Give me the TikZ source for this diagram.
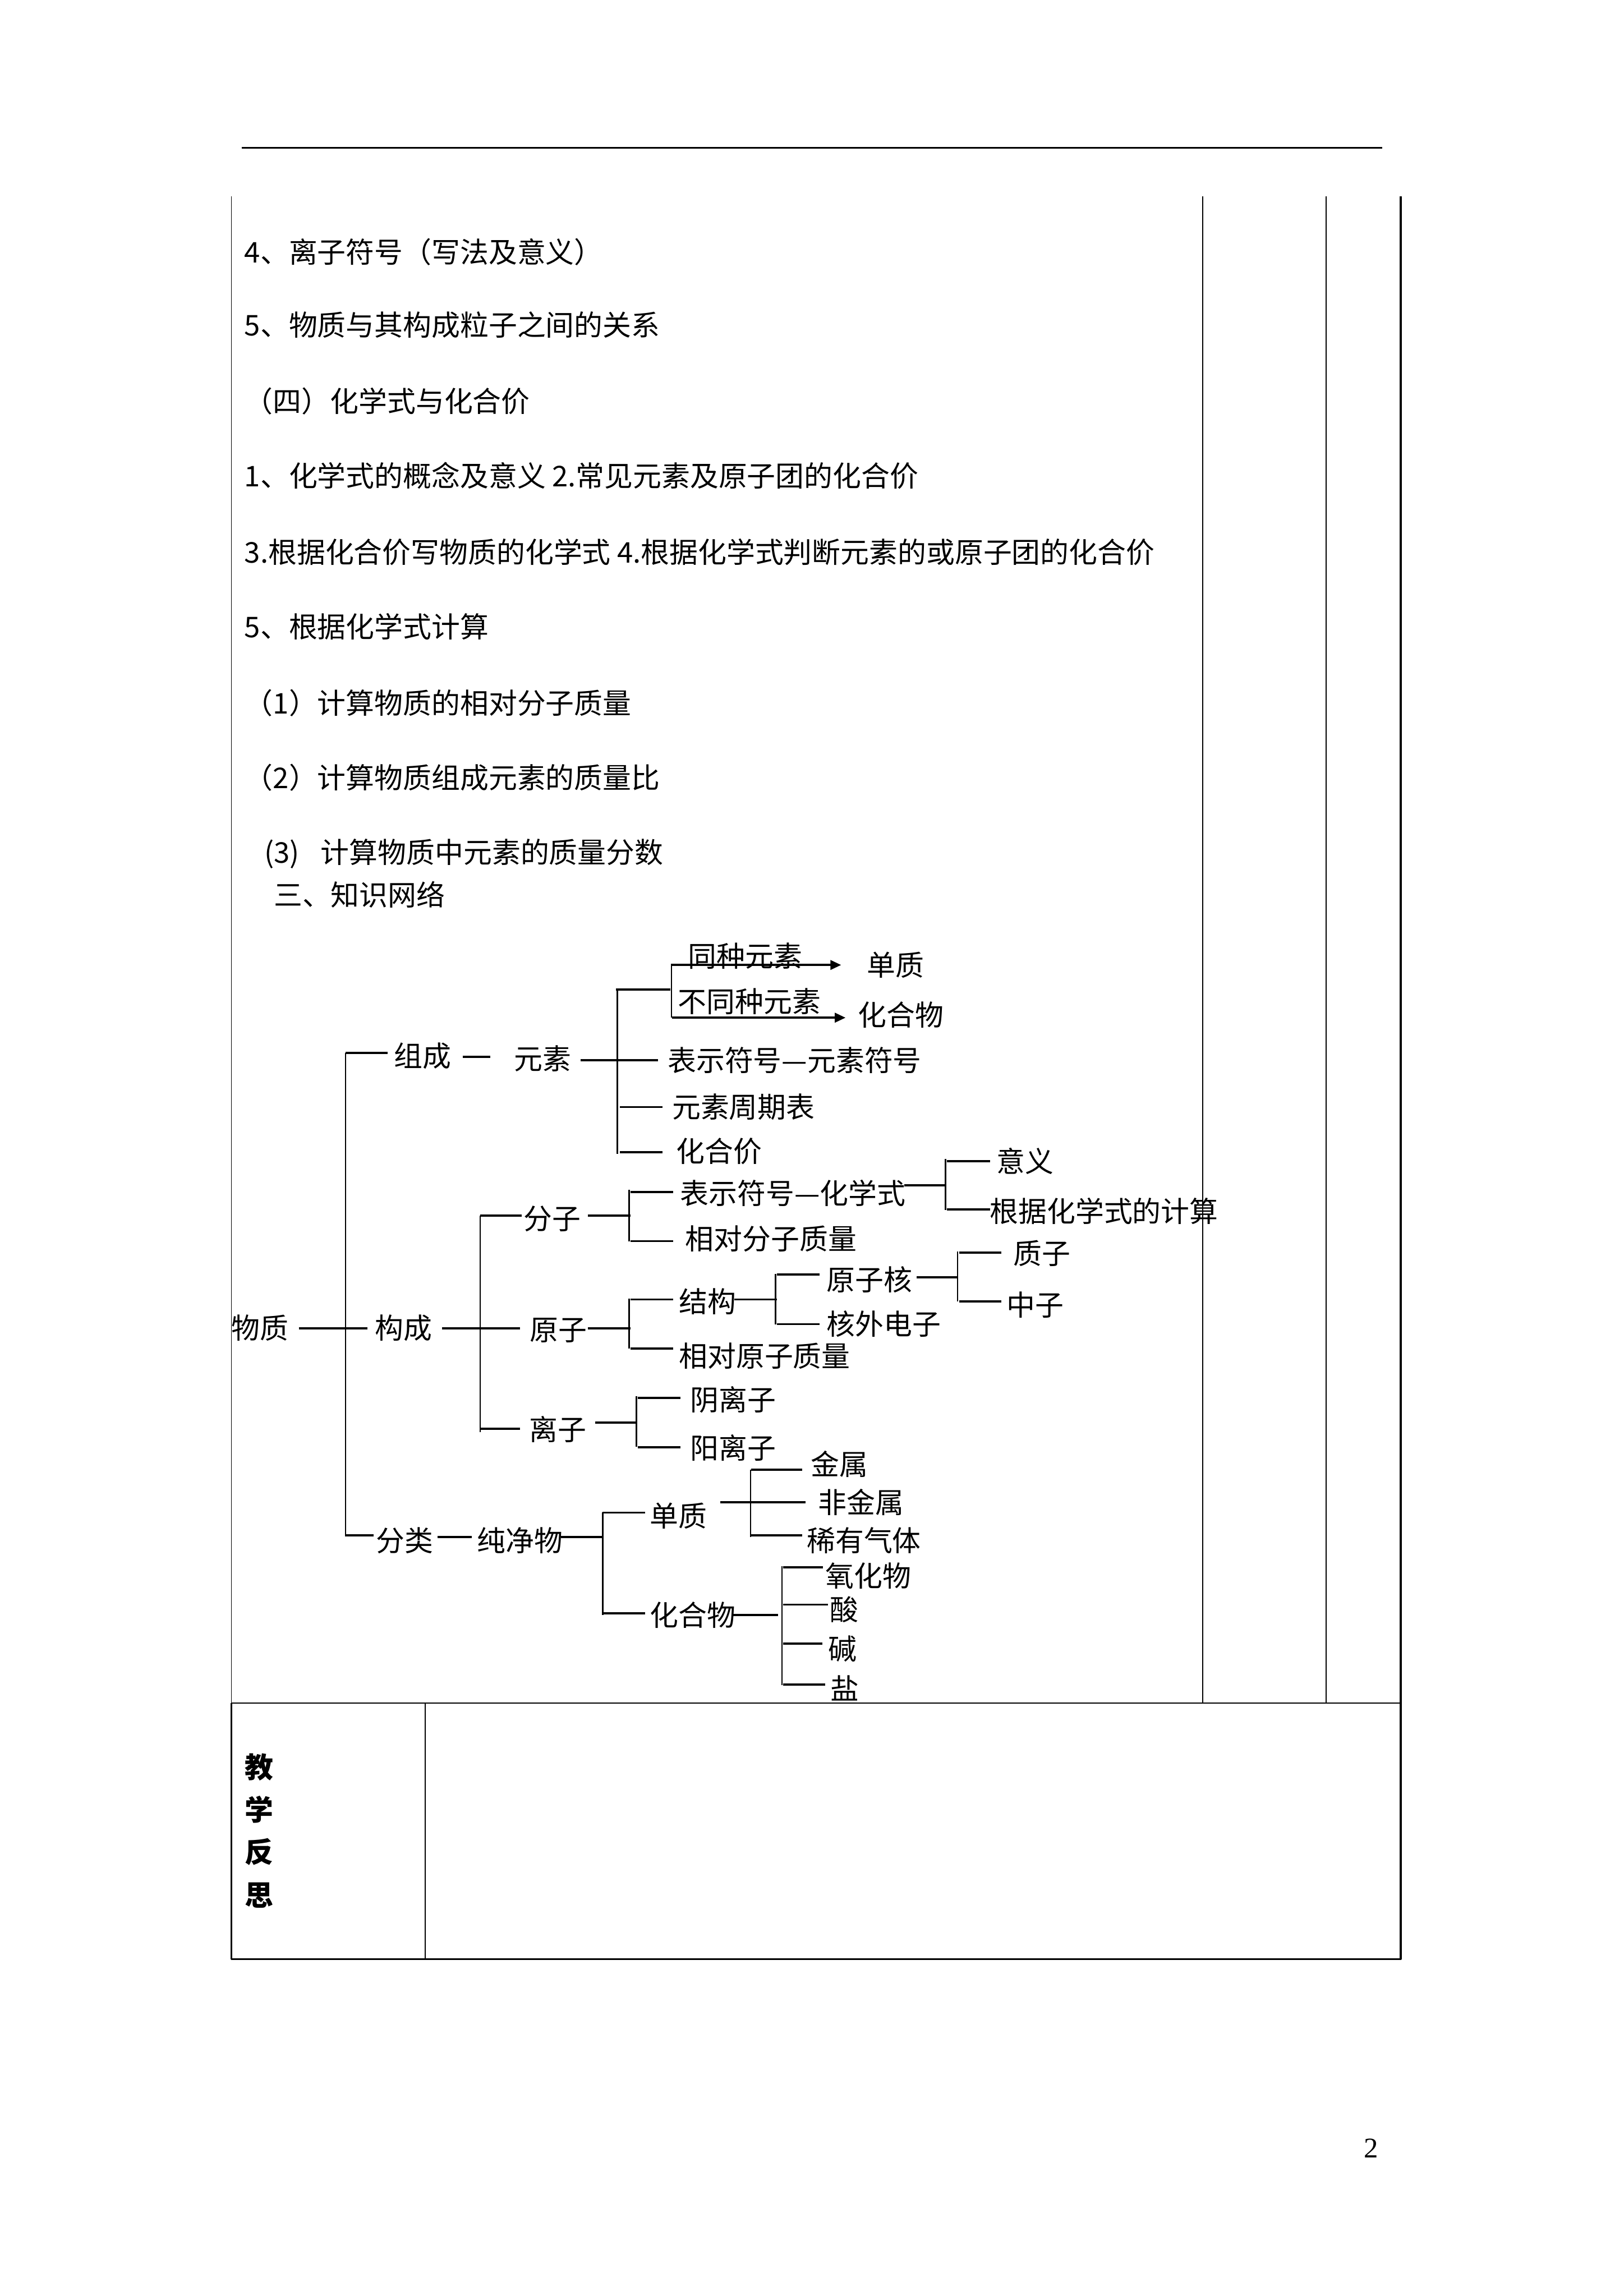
\documentclass[tikz,border=0pt]{standalone}
\usepackage{fontspec}
\newfontfamily\cjk{Noto Sans CJK SC}
\newfontfamily\pagenumfont{Liberation Serif}
\usetikzlibrary{arrows.meta}
\begin{document}
\begin{tikzpicture}[x=0.018936cm,y=-0.018941cm,
  every node/.style={inner sep=0pt,outer sep=0pt},
  txt/.style={anchor=west,font=\cjk\fontsize{10.5}{12}\selectfont,text height=9.24pt,text depth=1.26pt},
  hl/.style={line width=0.8pt},
  vl/.style={line width=0.5pt},
  arr/.style={line width=0.9pt,-{Triangle[length=1.4mm,width=1.2mm]}},
  tbthin/.style={line width=0.38pt},
  tbthick/.style={line width=0.65pt}]
\useasboundingbox (0,0) rectangle (1109,1568);

% page frame lines
\draw[line width=0.6pt] (165,101) -- (944,101);
\draw[tbthin] (158,134) -- (158,1163);
\draw[tbthin] (821.5,134) -- (821.5,1163);
\draw[tbthin] (905.5,134) -- (905.5,1163);
\draw[tbthick] (956.6,134) -- (956.6,1338);
\draw[line width=0.55pt] (158,1163) -- (956.6,1163);
\draw[tbthick] (158,1163) -- (158,1338);
\draw[tbthin] (290.5,1163) -- (290.5,1338);
\draw[line width=0.75pt] (157.7,1338) -- (956.9,1338);

% left column text
\node[txt] (l1) at (167,172) {4、离子符号（写法及意义）};
\node[txt] (l2) at (167,222) {5、物质与其构成粒子之间的关系};
\node[txt] (l3) at (167,274) {（四）化学式与化合价};
\node[txt] (l4) at (167,325) {1、化学式的概念及意义 2.常见元素及原子团的化合价};
\node[txt] (l5) at (167,377) {3.根据化合价写物质的化学式 4.根据化学式判断元素的或原子团的化合价};
\node[txt] (l6) at (167,428) {5、根据化学式计算};
\node[txt] (l7) at (167,480) {（1）计算物质的相对分子质量};
\node[txt] (l8) at (167,531) {（2）计算物质组成元素的质量比};
\node[txt] (l9) at (180.5,582) {(3)\hspace{0.75em}计算物质中元素的质量分数};
\node[txt] (l10) at (187,611) {三、知识网络};

% tree labels
\foreach \n/\x/\y/\t in {
  wz/158/907/物质, gc/256/907/构成, zc/269/721/组成, ys/351/723/元素,
  tzys/470/653/同种元素, dza/592/659/单质, btzys/463/684/不同种元素, hhwa/586/693/化合物,
  bsfha/456/724/表示符号—元素符号, zqb/459/756/元素周期表, hhj/462/786/化合价,
  fz/357.5/832/分子, bsfhb/464.5/815/表示符号—化学式, xdfz/468/846/相对分子质量,
  yy/680.6/793/意义, gjjs/676/827/根据化学式的计算,
  yz/362/908/原子, jg/463.7/889/结构, yzh/564.5/874/原子核, zhz/692/856/质子,
  zz/687.5/891/中子, hwdz/564.5/904/核外电子, xdyz/463.7/926/相对原子质量,
  lz/361.4/976/离子, ylz/471.4/956/阴离子, yangl/471.4/989/阳离子,
  fl/257/1052/分类, cjw/326/1052/纯净物, dzb/444/1035/单质,
  js/553.8/1000/金属, fjs/558.8/1026/非金属, xyqt/551/1052/稀有气体,
  hhwb/444/1103/化合物, yhw/563.8/1076/氧化物, suan/566.6/1099/酸,
  jian/565.5/1126/碱, yan/567/1153/盐}
  { \node[txt] (\n) at (\x,\y) {\t}; }

% horizontal connectors
\foreach \n/\xa/\xb/\y in {
  h1/236/264.8/719, h2/316/335/721.6, h3/396.6/449.5/724, h4/420.8/457.9/675.6,
  h5/423.5/452.6/756, h6/423.5/452.6/787, h7/204/251/907, h8/302/355/907,
  h9/328/356.4/830, h10/401.6/430.7/830, h11/430.7/459.8/813.9, h12/430.7/459.8/847.6,
  h13/617.7/645.7/809.6, h14/646.5/676/792.9, h15/646.5/676/826, h16/401.6/430.7/907,
  h17/430.7/459.8/887.4, h18/501.6/530.4/887.4, h19/530.4/559.8/870.5, h20/626/654/872.4,
  h21/655/684/855.6, h22/655/684/888.7, h23/530.4/559.8/904.3, h24/430.7/459.8/920.9,
  h25/327.7/355.3/975.8, h26/406.5/434.6/971.4, h27/435.5/464.6/954.6, h28/435.5/464.6/988.3,
  h29/235.7/255.3/1048.5, h30/298.7/322/1049.8, h31/383/411.6/1049.8, h32/411.6/440.7/1033,
  h33/492/550/1026, h34/513/548/1003.6, h35/513/548/1048.5, h36/411.6/440.7/1101.6,
  h37/500.5/531.3/1103, h38/534.8/562/1070.5, h39/534.8/565.5/1095.8, h40/534.8/561.6/1122.4,
  h41/534.8/563.4/1150.4}
  { \coordinate (\n a) at (\xa,\y); \coordinate (\n b) at (\xb,\y);
    \draw[hl] (\n a) -- (\n b); }

% vertical buses
\foreach \n/\x/\ya/\yb in {
  v1/236/719/1048.5, v2/421.6/675.6/788, v3/458.5/659/695, v4/328/830/978,
  v5/429.6/812.4/847.6, v6/645.7/791.3/826.5, v7/429.6/887/921, v8/529.6/869.9/904.3,
  v9/654/854.5/888.7, v10/434.6/953.5/988, v11/411.6/1032.7/1102.8,
  v12/512.5/1003.6/1049.6, v13/534/1069.4/1150.7}
  { \coordinate (\n a) at (\x,\ya); \coordinate (\n b) at (\x,\yb);
    \draw[vl] (\n a) -- (\n b); }

% arrows
\coordinate (aa) at (458,659);
\coordinate (ab) at (574.5,659);
\coordinate (ba) at (459,695);
\coordinate (bb) at (577.5,695);
\draw[arr] (aa) -- (ab);
\draw[arr] (ba) -- (bb);

% lower row label
\foreach \n/\y/\t in {ja/1206.7/教, xue/1236/学, fan/1264.6/反, si/1294/思}
  { \node[font=\cjk\bfseries\fontsize{10.5}{12}\selectfont,text height=9.24pt,text depth=1.26pt] (\n) at (177,\y) {\t}; }

% page number
\node[font=\pagenumfont\fontsize{10.5}{12}\selectfont] (pnum) at (936.5,1467) {2};
\end{tikzpicture}
\end{document}
